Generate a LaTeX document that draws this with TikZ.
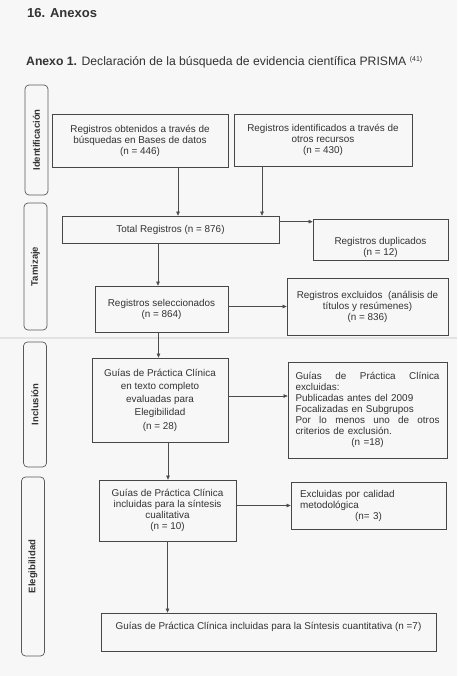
\documentclass[tikz,border=0pt]{standalone}
\usepackage{fontspec}
\setmainfont{Liberation Sans}
\usetikzlibrary{arrows.meta, positioning}

\begin{document}
\begin{tikzpicture}[x=1pt,y=-1pt,font=\fontsize{9.9}{11}\selectfont,text=black!80,
  box/.style={draw=black!72,line width=0.7pt,inner sep=0pt,align=center},
  phase/.style={draw=black!65,line width=0.7pt,rounded corners=4pt,rotate=90,
    minimum height=23pt,inner sep=0pt,font=\fontsize{9.5}{11}\selectfont\bfseries},
  arr/.style={draw=black!70,line width=0.6pt,-{Triangle[length=4pt,width=3.5pt]}}]
\useasboundingbox (0,0) rectangle (457,676);
\fill[black!3] (0,0) rectangle (457,676);
\draw[black!11,line width=2pt] (0,338) -- (457,338);
% heading
\node[anchor=base west,inner sep=0pt,font=\fontsize{13}{15}\selectfont\bfseries] (ttl) at (27,17.5) {16. Anexos};
\node[anchor=base west,inner sep=0pt,font=\fontsize{12.2}{14}\selectfont] (cap) at (26,65.7)
  {\textbf{Anexo 1.} Declaración de la búsqueda de evidencia científica PRISMA \raisebox{4.5pt}{\fontsize{7}{7}\selectfont(41)}};
% phases
\node[phase,minimum width=110pt] (idf) at (36.5,140) {Identificación};
\node[phase,minimum width=127pt] (tam) at (35.5,266.5) {Tamizaje};
\node[phase,minimum width=125pt] (inc) at (35,404.5) {Inclusión};
\node[phase,minimum width=179pt] (ele) at (33,566.5) {Elegibilidad};
% boxes
\node[box,minimum width=176pt,minimum height=53pt] (srca) at (140,140.5)
  {Registros obtenidos a través de\\búsquedas en Bases de datos\\(n = 446)};
\node[box,minimum width=178pt,minimum height=52pt] (srcb) at (323,140)
  {Registros identificados a través de\\otros recursos\\(n = 430)};
\node[box,minimum width=217pt,minimum height=27pt] (total) at (170.5,229.5) {Total Registros (n = 876)};
\node[box,minimum width=135pt,minimum height=41pt] (dup) at (380.5,239.5) {};
\node[align=center,inner sep=0pt] (duptxt) at ([yshift=-7.5pt]dup.center) {Registros duplicados\\(n = 12)};
\node[box,minimum width=133pt,minimum height=46pt] (sel) at (161.5,309)
  {Registros seleccionados\\(n = 864)};
\node[box,minimum width=161pt,minimum height=57pt] (excl) at (367.5,306.5)
  {Registros excluidos\ \ (análisis de\\títulos y resúmenes)\\(n = 836)};
\node[box,minimum width=136pt,minimum height=84pt,font=\fontsize{9.9}{13.3}\selectfont] (guia) at (160,400)
  {Guías de Práctica Clínica\\en texto completo\\evaluadas para\\Elegibilidad\\(n = 28)};
\node[box,minimum width=159pt,minimum height=96pt,text width=144pt,align=left] (gexc) at (367.5,410)
  {Guías\hfill de\hfill Práctica\hfill Clínica\\excluidas:\\Publicadas antes del 2009\\Focalizadas en Subgrupos\\
   Por\hfill lo\hfill menos\hfill uno\hfill de\hfill otros\\criterios de exclusión.\\\hfill(n =18)\hfill\null};
\node[box,minimum width=137pt,minimum height=61pt] (incl) at (167.5,510.5)
  {Guías de Práctica Clínica\\incluidas para la síntesis\\cualitativa\\(n = 10)};
\node[box,minimum width=155pt,minimum height=47pt,text width=137pt,align=left] (cal) at (368.5,505.5)
  {Excluidas por calidad\\metodológica\\\hfill(n= 3)\hfill\null};
\node[box,minimum width=335pt,minimum height=38pt] (final) at (268.5,632) {};
\node[inner sep=0pt] (fintxt) at ([yshift=5pt]final.center)
  {Guías de Práctica Clínica incluidas para la Síntesis cuantitativa (n =7)};
% arrows
\draw[arr] ([xshift=38pt]srca.south) coordinate (a1) -- (a1 |- total.north);
\draw[arr] ([xshift=-61pt]srcb.south) coordinate (b1) -- (b1 |- total.north);
\draw[arr] ([yshift=-6pt]total.north east) coordinate (t1) -- (t1 -| dup.west);
\draw[arr] ([xshift=-12.5pt]total.south) coordinate (t2) -- (t2 |- sel.north);
\draw[arr] (sel.east |- excl.west) -- (excl.west);
\draw[arr] ([xshift=-3pt]sel.south) coordinate (s1) -- (s1 |- guia.north);
\draw[arr] ([yshift=4pt]guia.east) coordinate (g1) -- (g1 -| gexc.west);
\draw[arr] ([xshift=8pt]guia.south) coordinate (g2) -- (g2 |- incl.north);
\draw[arr] (incl.east |- cal.west) -- (cal.west);
\draw[arr] (incl.south) coordinate (i1) -- (i1 |- final.north);
\end{tikzpicture}
\end{document}
